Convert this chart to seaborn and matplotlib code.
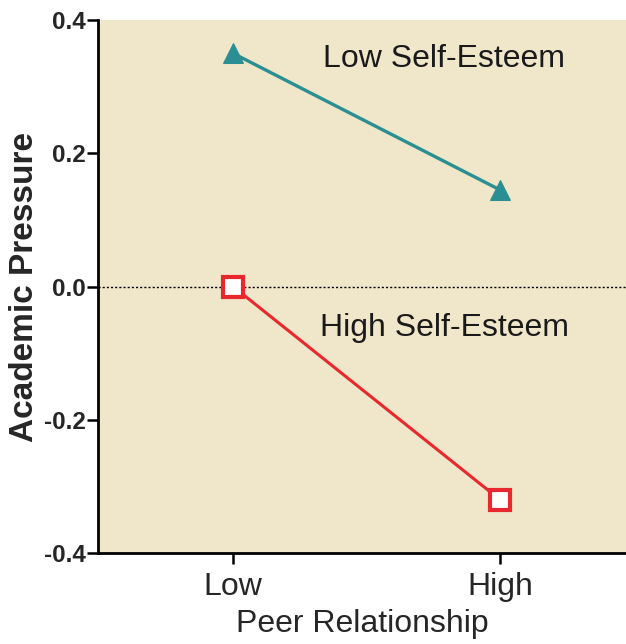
import matplotlib
matplotlib.use("Agg")
import matplotlib.pyplot as plt
import seaborn as sns
import pandas as pd

peer = ["Low", "High"]
low_se = [0.35, 0.145]
high_se = [0.0, -0.32]
yticks = [-0.4, -0.2, 0.0, 0.2, 0.4]
ytick_labels = ["-0.4", "-0.2", "0.0", "0.2", "0.4"]

sns.set_style("white")
plt.rcParams['font.family'] = ['Liberation Sans', 'DejaVu Sans']

df = pd.DataFrame({
    "Peer": peer * 2,
    "Pressure": low_se + high_se,
    "Group": ["Low Self-Esteem"] * 2 + ["High Self-Esteem"] * 2,
})

fig = plt.figure(figsize=(6.26, 6.44), dpi=100)
ax = fig.add_axes([98 / 626, 91 / 644, 1 - 98 / 626, (553 - 20) / 644])
ax.set_facecolor("#F0E6C9")

teal = "#2A8F92"
red = "#E8282C"

d1 = df[df.Group == "Low Self-Esteem"]
d2 = df[df.Group == "High Self-Esteem"]
sns.lineplot(data=d1, x="Peer", y="Pressure", ax=ax, color=teal, lw=2.4,
             marker="^", markersize=14, markeredgecolor=teal, markerfacecolor=teal,
             sort=False, legend=False)
sns.lineplot(data=d2, x="Peer", y="Pressure", ax=ax, color=red, lw=2.2,
             marker="s", markersize=15, markeredgecolor=red, markerfacecolor="white",
             markeredgewidth=3, sort=False, legend=False)

ax.axhline(0, color="black", lw=1, ls=(0, (1.5, 1.5)), zorder=1)

ax.set_xlim(-0.506, 1.472)
ax.set_ylim(-0.4, 0.4)
ax.set_yticks(yticks)
ax.set_yticklabels(ytick_labels, fontsize=17.5, fontweight="bold")
ax.set_xticks([0, 1])
ax.set_xticklabels(peer, fontsize=23)
ax.tick_params(axis="both", direction="out", length=8, width=1.8, color="black",
               bottom=True, left=True)
ax.tick_params(axis="y", pad=1)
ax.tick_params(axis="x", pad=6)

for s in ["top", "right"]:
    ax.spines[s].set_visible(False)
for s in ["left", "bottom"]:
    ax.spines[s].set_color("black")
    ax.spines[s].set_linewidth(2)

ax.set_xlabel("Peer Relationship", fontsize=23, labelpad=5)
ax.set_ylabel("Academic Pressure", fontsize=24, fontweight="bold", labelpad=2.5)

ax.text(0.337, 0.341, "Low Self-Esteem", fontsize=23, va="center", ha="left", color="#1a1a1a")
ax.text(0.326, -0.0616, "High Self-Esteem", fontsize=23, va="center", ha="left", color="#1a1a1a")

fig.savefig("out.png", dpi=100)
